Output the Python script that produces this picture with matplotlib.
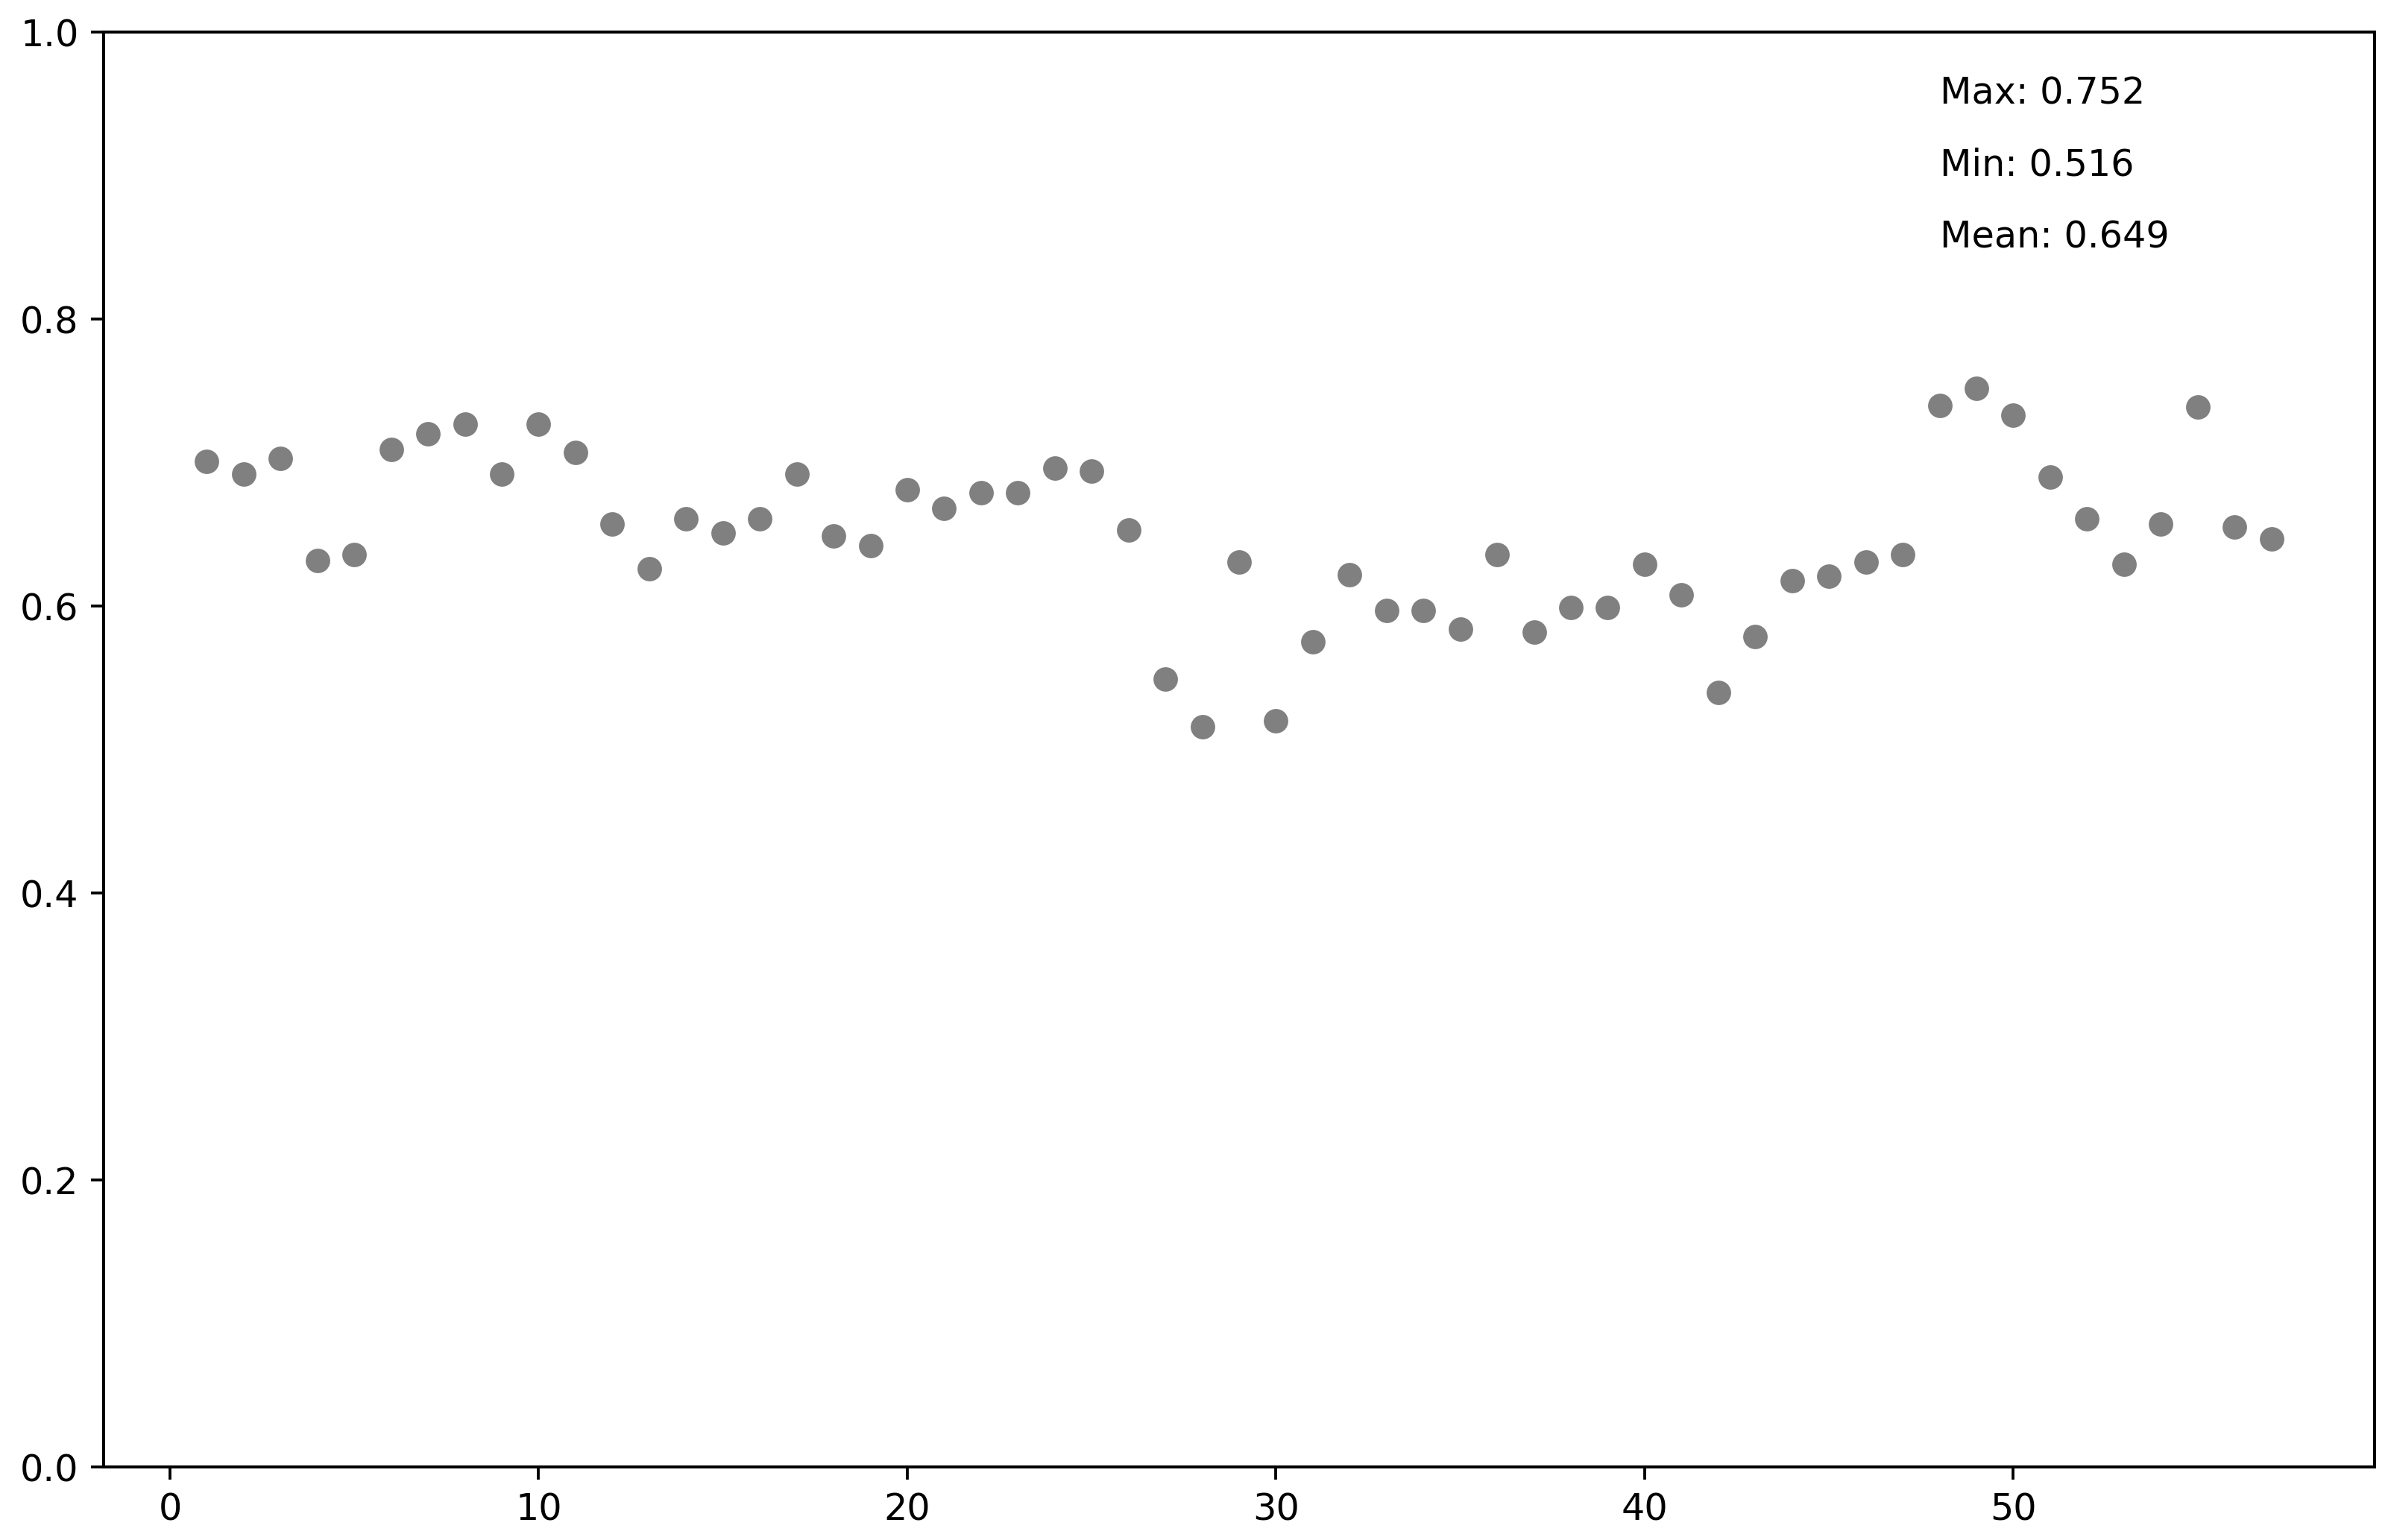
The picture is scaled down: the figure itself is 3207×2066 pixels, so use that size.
import matplotlib
matplotlib.use("Agg")
import matplotlib.pyplot as plt
import numpy as np

x_values = list(range(1, 58))
y_values = [
    0.701, 0.692, 0.703, 0.632, 0.636, 0.709, 0.720, 0.727, 0.692, 0.727,
    0.707, 0.657, 0.626, 0.661, 0.651, 0.661, 0.692, 0.649, 0.642, 0.681,
    0.668, 0.679, 0.679, 0.696, 0.694, 0.653, 0.549, 0.516, 0.631, 0.520,
    0.575, 0.622, 0.597, 0.597, 0.584, 0.636, 0.582, 0.599, 0.599, 0.629,
    0.608, 0.540, 0.579, 0.618, 0.621, 0.631, 0.636, 0.740, 0.752, 0.733,
    0.690, 0.661, 0.629, 0.657, 0.739, 0.655, 0.647,
]
stat_labels = ["Max", "Min", "Mean"]

plt.rcParams["font.size"] = 10.45
plt.rcParams["xtick.major.size"] = 3.6
plt.rcParams["ytick.major.size"] = 3.6
plt.rcParams["axes.linewidth"] = 0.85

DPI = 340
fig = plt.figure(figsize=(3207 / DPI, 2066 / DPI), dpi=DPI)
ax = fig.add_axes([139 / 3207, 1 - 1968 / 2066, (3185 - 139) / 3207, (1968 - 43.3) / 2066])

ax.scatter(x_values, y_values, s=54, color="gray", edgecolors="white", linewidths=0.4, zorder=3)
ax.set_ylim(0, 1)

vals = np.array(y_values)
stats = [vals.max(), vals.min(), vals.mean()]
for i, (lab, v) in enumerate(zip(stat_labels, stats)):
    ax.text(48, 0.95 - 0.05 * i, f"{lab}: {v:.3f}")

fig.savefig("out.png", dpi=DPI)
